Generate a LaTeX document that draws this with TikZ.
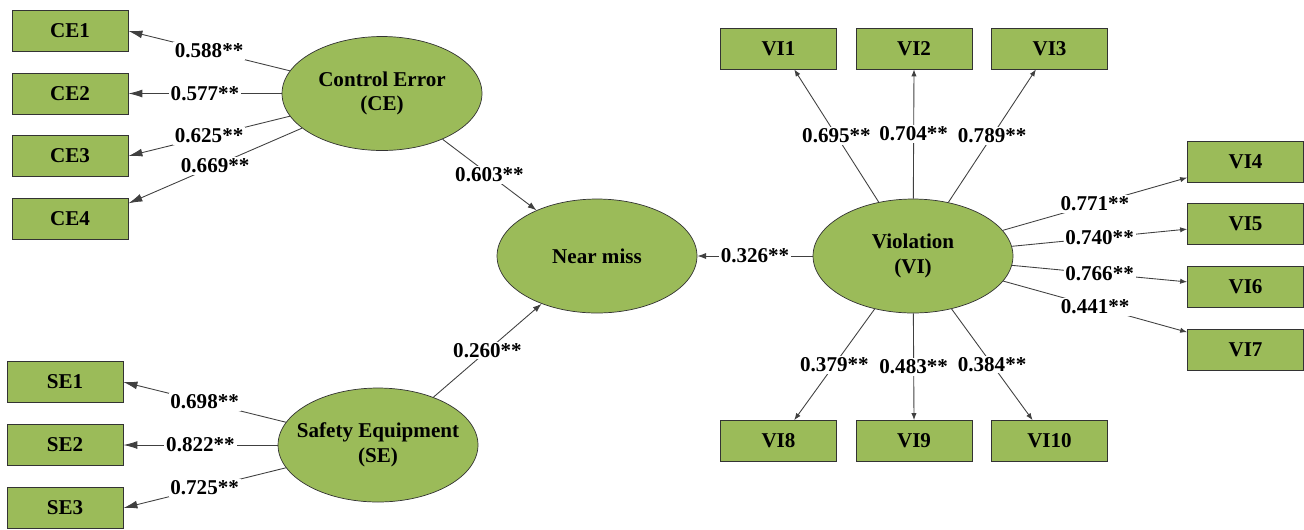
\documentclass[tikz,border=0pt]{standalone}
\usepackage{fontspec}
\setmainfont{Liberation Serif}
\usepackage{xcolor}
\usepackage{tikz}
\usetikzlibrary{shapes.geometric}
\usetikzlibrary{arrows.meta}
\definecolor{olivegreen}{HTML}{9BBB59}

\begin{document}
\begin{tikzpicture}[x=0.02cm, y=-0.02cm, every node/.style={font=\bfseries\fontsize{12}{14}\selectfont}, item/.style={draw=black!80, fill=olivegreen, minimum width=2.32cm, minimum height=0.82cm, inner sep=0pt}, factor/.style={ellipse, draw=black!80, fill=olivegreen, minimum width=4cm, minimum height=2.28cm, inner xsep=-7pt, inner ysep=0pt, align=center}, load/.style={fill=white, inner sep=1pt}, big/.style={draw=black!75, line width=0.5pt, -{Latex[length=8pt,width=4.5pt]}}, mid/.style={draw=black!75, line width=0.5pt, -{Latex[length=5pt,width=3.5pt]}}, small/.style={draw=black!75, line width=0.5pt, -{Latex[length=4pt,width=3pt]}}]
		\useasboundingbox (0,0) rectangle (1304,529);
		% latent factors
		\node[factor] (ce) at (382,93.5) {Control Error\\(CE)};
		\node[factor] (se) at (378,445) {Safety Equipment\\(SE)};
		\node[factor] (nm) at (597,256) {Near miss};
		\node[factor] (vi) at (913,256) {Violation\\(VI)};
		% indicators
		\foreach \i/\y in {1/31,2/93.5,3/156,4/219}
			\node[item] (ce\i) at (70,\y) {CE\i};
		\foreach \i/\y in {1/382,2/445,3/508}
			\node[item] (se\i) at (65,\y) {SE\i};
		\foreach \i/\x in {1/778.5,2/914,3/1049.5}
			\node[item] (vi\i) at (\x,48.5) {VI\i};
		\foreach \i/\y in {4/162,5/224,6/287,7/350}
			\node[item] (vi\i) at (1245.5,\y) {VI\i};
		\foreach \i/\x in {8/778.5,9/914,10/1049.5}
			\node[item] (vi\i) at (\x,441) {VI\i};
		% loadings
		\foreach \i/\a/\v in {1/east/0.588,2/east/0.577,3/east/0.625,4/15/0.669}
			\draw[big] (ce) -- node[load]{\v**} (ce\i.\a);
		\foreach \i/\v in {1/0.698,2/0.822,3/0.725}
			\draw[big] (se) -- node[load]{\v**} (se\i.east);
		\foreach \i/\a/\v in {1/-53/0.695,2/south/0.704,3/-123/0.789,4/195/0.771,5/185/0.740,6/175/0.766,7/163/0.441,8/53/0.379,9/north/0.483,10/129/0.384}
			\draw[small] (vi) -- node[load]{\v**} (vi\i.\a);
		% paths
		\draw[mid] (ce) -- node[load]{0.603**} (nm);
		\draw[mid] (se) -- node[load]{0.260**} (nm);
		\draw[mid] (vi) -- node[load]{0.326**} (nm);
	\end{tikzpicture}
\end{document}
